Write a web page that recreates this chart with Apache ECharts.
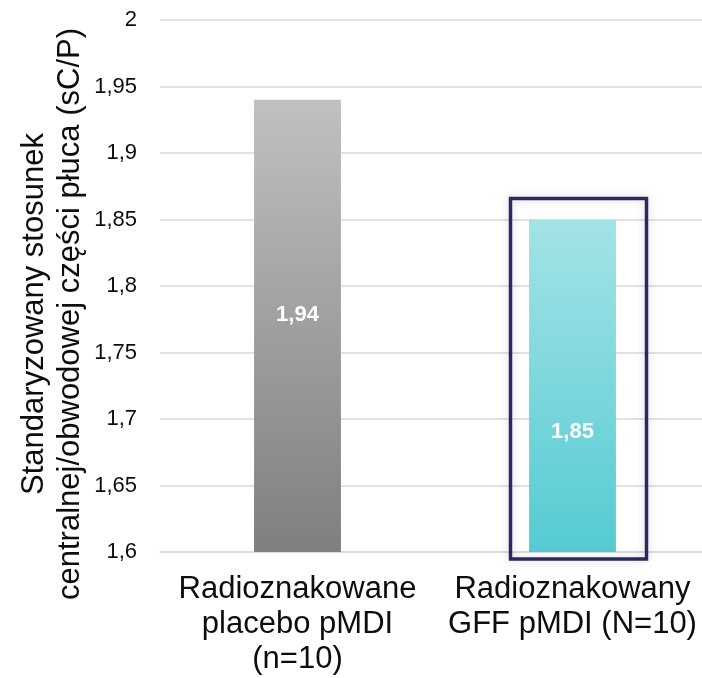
<!DOCTYPE html>
<html>
<head>
<meta charset="utf-8">
<script src="https://cdn.jsdelivr.net/npm/echarts@6/dist/echarts.min.js"></script>
<style>
html,body{margin:0;padding:0;background:#fff;overflow:hidden;}
#c{width:710px;height:678px;}
</style>
</head>
<body>
<div id="c"></div>
<script>
const categories = ['Radioznakowane\nplacebo pMDI\n(n=10)', 'Radioznakowany\nGFF pMDI (N=10)'];
const values = [1.94, 1.85];
const yMin = 1.6, yMax = 2, yStep = 0.05;
const yTitle = 'Standaryzowany stosunek\ncentralnej/obwodowej części płuca (sC/P)';
const highlightIndex = 1;

const FONT = '"Liberation Sans", Arial, sans-serif';
const gradients = [
  ['#c0c0c0', '#7f7f7f'],
  ['#a3e3e6', '#55cbd3']
];
const labelPos = [['50%', '47.6%'], ['50%', '63.9%']];
const fmt = v => parseFloat(Number(v).toFixed(2)).toString().replace('.', ',');

const chart = echarts.init(document.getElementById('c'), null, {renderer: 'canvas'});
const data = values.map((v, i) => ({
  value: v,
  itemStyle: {
    color: new echarts.graphic.LinearGradient(0, 0, 0, 1, [
      {offset: 0, color: gradients[i][0]},
      {offset: 1, color: gradients[i][1]}
    ])
  },
  label: {position: labelPos[i]}
}));

chart.setOption({
  animation: false,
  grid: {left: 160, right: 0, top: 20, bottom: 126, containLabel: false},
  xAxis: {
    type: 'category',
    data: categories,
    axisTick: {show: false},
    axisLine: {lineStyle: {color: '#d9d9d9', width: 1.5}},
    axisLabel: {
      color: '#0d0d0d', fontFamily: FONT, fontSize: 31, lineHeight: 35,
      margin: 20, interval: 0
    }
  },
  yAxis: {
    type: 'value',
    min: yMin, max: yMax, interval: yStep,
    axisLine: {show: false},
    axisTick: {show: false},
    splitLine: {lineStyle: {color: '#d9d9d9', width: 1.5}},
    axisLabel: {
      color: '#0d0d0d', fontFamily: FONT, fontSize: 22, margin: 23,
      formatter: fmt
    }
  },
  series: [{
    type: 'bar',
    data: data,
    barWidth: '31.6%',
    label: {
      show: true,
      color: '#fff', fontWeight: 'bold', fontFamily: FONT, fontSize: 22,
      align: 'center', verticalAlign: 'middle',
      formatter: p => fmt(p.value)
    }
  }]
});

function addDecor() {
  const topPt = chart.convertToPixel({seriesIndex: 0}, [highlightIndex, values[highlightIndex]]);
  const botPt = chart.convertToPixel({seriesIndex: 0}, [highlightIndex, yMin]);
  const x0 = topPt[0] - 62, x1 = topPt[0] + 74;
  const y0 = topPt[1] - 21, y1 = botPt[1] + 7;
  chart.setOption({
    graphic: [
      {
        type: 'rect',
        shape: {x: x0, y: y0, width: x1 - x0, height: y1 - y0},
        style: {fill: 'none', stroke: '#2a2862', lineWidth: 3.5,
                shadowBlur: 10, shadowColor: 'rgba(0,0,0,0.18)'},
        z: 10
      },
      {
        type: 'text',
        x: 52, y: 314,
        rotation: Math.PI / 2,
        style: {
          text: yTitle,
          font: '31px ' + FONT,
          fill: '#0d0d0d',
          align: 'center',
          verticalAlign: 'middle',
          lineHeight: 36
        },
        z: 10
      }
    ]
  });
}
addDecor();
</script>
</body>
</html>
